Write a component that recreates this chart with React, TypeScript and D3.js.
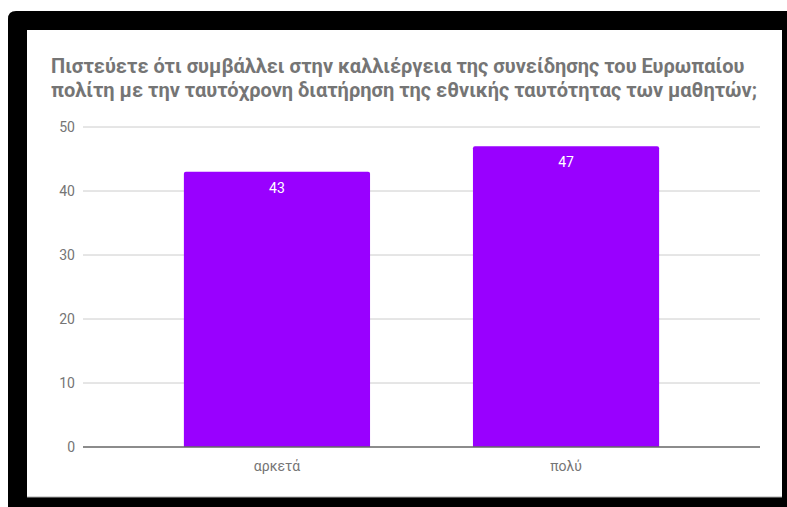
import React from 'react';
import * as d3 from 'd3';

const categories = ['αρκετά', 'πολύ'];
const values = [43, 47];
const yTicks = [0, 10, 20, 30, 40, 50];
const titleLines = [
  'Πιστεύετε ότι συμβάλλει στην καλλιέργεια της συνείδησης του Ευρωπαίου',
  'πολίτη με την ταυτόχρονη διατήρηση της εθνικής ταυτότητας των μαθητών;',
];

const W = 787;
const H = 507;
const plotLeft = 83;
const plotRight = 760;
const plotTop = 127;
const plotBottom = 447;

export default function App() {
  const x = d3
    .scaleBand<string>()
    .domain(categories)
    .range([plotLeft, plotRight])
    .paddingInner(0.356)
    .paddingOuter(0.349);
  const y = d3.scaleLinear().domain([0, 50]).range([plotBottom, plotTop]);
  const font = 'Roboto, Arial, sans-serif';
  const r = 2;

  return (
    <svg
      width={W}
      height={H}
      style={{ position: 'absolute', left: 0, top: 0, background: '#fff' }}
    >
      <path
        d={`M8,${H} L8,19 Q8,11 16,11 L${W},11 L${W},${H} Z`}
        fill="#000"
      />
      <rect x={27} y={30} width={755} height={467} fill="#fff" />
      <line x1={27} x2={782} y1={497} y2={497} stroke="#aaa" strokeWidth={1} />
      {titleLines.map((t, i) => (
        <text
          key={i}
          x={51}
          y={73 + i * 24}
          fontFamily={font}
          fontWeight="bold"
          fontSize={20}
          fill="#757575"
        >
          {t}
        </text>
      ))}
      {yTicks.map((t) => (
        <g key={t}>
          {t !== 0 && (
            <line
              x1={plotLeft}
              x2={plotRight}
              y1={y(t)}
              y2={y(t)}
              stroke="#cccccc"
              strokeWidth={1}
            />
          )}
          <text
            x={75}
            y={y(t)}
            dy="0.35em"
            textAnchor="end"
            fontFamily={font}
            fontSize={14}
            fill="#757575"
          >
            {t}
          </text>
        </g>
      ))}
      {categories.map((c, i) => {
        const bx = x(c)!;
        const bw = x.bandwidth();
        const top = y(values[i]);
        const bottom = y(0);
        const d = `M${bx},${bottom} L${bx},${top + r} Q${bx},${top} ${bx + r},${top} L${bx + bw - r},${top} Q${bx + bw},${top} ${bx + bw},${top + r} L${bx + bw},${bottom} Z`;
        return (
          <g key={c}>
            <path d={d} fill="#9900ff" />
            <text
              x={bx + bw / 2}
              y={top + 16}
              dy="0.35em"
              textAnchor="middle"
              fontFamily={font}
              fontSize={14}
              fill="#ffffff"
            >
              {values[i]}
            </text>
            <text
              x={bx + bw / 2}
              y={466}
              dy="0.35em"
              textAnchor="middle"
              fontFamily={font}
              fontSize={14}
              fill="#757575"
            >
              {c}
            </text>
          </g>
        );
      })}
      <line
        x1={plotLeft}
        x2={plotRight}
        y1={y(0)}
        y2={y(0)}
        stroke="#666"
        strokeWidth={1.5}
      />
    </svg>
  );
}
